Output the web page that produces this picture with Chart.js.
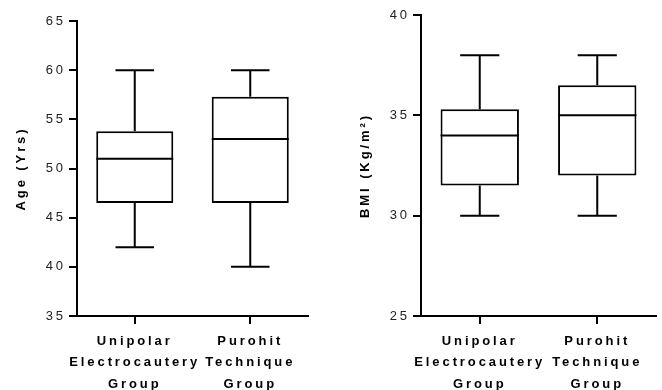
<!DOCTYPE html>
<html>
<head>
<meta charset="utf-8">
<script src="https://cdn.jsdelivr.net/npm/chart.js@4"></script>
<style>
  body { margin: 0; background: #fff; }
  .wrap { position: absolute; top: 0; width: 331px; height: 390px; }
</style>
</head>
<body>
<div class="wrap" style="left:0"><canvas id="age" width="331" height="390"></canvas></div>
<div class="wrap" style="left:331px"><canvas id="bmi" width="331" height="390"></canvas></div>
<script>
// groups (x axis)
const groups = [['Unipolar', 'Electrocautery', 'Group'], ['Purohit', 'Technique', 'Group']];

// age (years) box plot stats, one value per group
const ageMin = [42, 40];
const ageQ1 = [46.5, 46.5];
const ageMedian = [51, 53];
const ageQ3 = [53.8, 57.3];
const ageMax = [60, 60];
const ageTicks = [35, 40, 45, 50, 55, 60, 65];

// BMI (kg/m2) box plot stats
const bmiMin = [30, 30];
const bmiQ1 = [31.5, 32];
const bmiMedian = [34, 35];
const bmiQ3 = [35.3, 36.5];
const bmiMax = [38, 38];
const bmiTicks = [25, 30, 35, 40];

const SPACING = '2.9px';

// chart.js has no boxplot, so boxes are floating bars and this draws median + whiskers
const boxWhisker = {
  id: 'boxWhisker',
  beforeUpdate(chart) { chart.ctx.letterSpacing = SPACING; },
  beforeDraw(chart) { chart.ctx.letterSpacing = SPACING; },
  afterDatasetsDraw(chart, args, opts) {
    const ctx = chart.ctx;
    const y = chart.scales.y;
    const bars = chart.getDatasetMeta(0).data;
    ctx.save();
    ctx.strokeStyle = '#000';
    ctx.lineWidth = 2;
    bars.forEach((bar, i) => {
      const half = bar.width / 2;
      const cap = bar.width / 4;
      const line = (x1, y1, x2, y2) => {
        ctx.beginPath();
        ctx.moveTo(x1, y1);
        ctx.lineTo(x2, y2);
        ctx.stroke();
      };
      line(bar.x - half, y.getPixelForValue(opts.median[i]), bar.x + half, y.getPixelForValue(opts.median[i]));
      line(bar.x, y.getPixelForValue(opts.q3[i]), bar.x, y.getPixelForValue(opts.max[i]));
      line(bar.x, y.getPixelForValue(opts.q1[i]), bar.x, y.getPixelForValue(opts.min[i]));
      line(bar.x - cap, y.getPixelForValue(opts.max[i]), bar.x + cap, y.getPixelForValue(opts.max[i]));
      line(bar.x - cap, y.getPixelForValue(opts.min[i]), bar.x + cap, y.getPixelForValue(opts.min[i]));
    });
    ctx.restore();
  }
};

const makeBoxChart = (id, title, ticks, stats, lay) => {
  const ctx = document.getElementById(id);
  return new Chart(ctx, {
    type: 'bar',
    data: {
      labels: groups,
      datasets: [{
        data: stats.q1.map((q, i) => [q, stats.q3[i]]),
        backgroundColor: '#fff',
        borderColor: '#000',
        borderWidth: 2,
        borderSkipped: false,
        categoryPercentage: 1,
        barPercentage: 0.667
      }]
    },
    options: {
      responsive: false,
      animation: false,
      layout: { padding: { top: lay.top, right: lay.right, bottom: 0, left: 0 } },
      plugins: {
        legend: { display: false },
        tooltip: { enabled: false },
        boxWhisker: stats
      },
      scales: {
        x: {
          afterFit: (s) => { s.height = 74; },
          border: { display: true, color: '#000', width: 2 },
          grid: { display: true, offset: false, drawOnChartArea: false, drawTicks: true, tickLength: 8, color: '#000', lineWidth: 2 },
          ticks: {
            color: '#000',
            padding: 7,
            maxRotation: 0,
            autoSkip: false,
            font: { family: 'Liberation Sans, Arial', size: 13, weight: 'bold', lineHeight: 1.63 }
          }
        },
        y: {
          min: ticks[0],
          max: ticks[ticks.length - 1],
          afterFit: (s) => { s.width = lay.axis; },
          afterBuildTicks: (s) => { s.ticks = ticks.map(v => ({ value: v })); },
          border: { display: true, color: '#000', width: 2 },
          grid: { display: true, drawOnChartArea: false, drawTicks: true, tickLength: 8, color: '#000', lineWidth: 2 },
          ticks: {
            color: '#222',
            padding: 3,
            font: { family: 'Liberation Sans, Arial', size: 13 }
          },
          title: {
            display: true,
            text: title,
            color: '#000',
            padding: { top: lay.titlePad, bottom: 0 },
            font: { family: 'Liberation Sans, Arial', size: 13, weight: 'bold' }
          }
        }
      }
    },
    plugins: [boxWhisker]
  });
};

makeBoxChart('age', 'Age (Yrs)', ageTicks,
  { min: ageMin, q1: ageQ1, median: ageMedian, q3: ageQ3, max: ageMax },
  { top: 21, right: 23, axis: 77, titlePad: 14 });

makeBoxChart('bmi', 'BMI (Kg/m²)', bmiTicks,
  { min: bmiMin, q1: bmiQ1, median: bmiMedian, q3: bmiQ3, max: bmiMax },
  { top: 15, right: 6, axis: 90, titlePad: 27 });
</script>
</body>
</html>
